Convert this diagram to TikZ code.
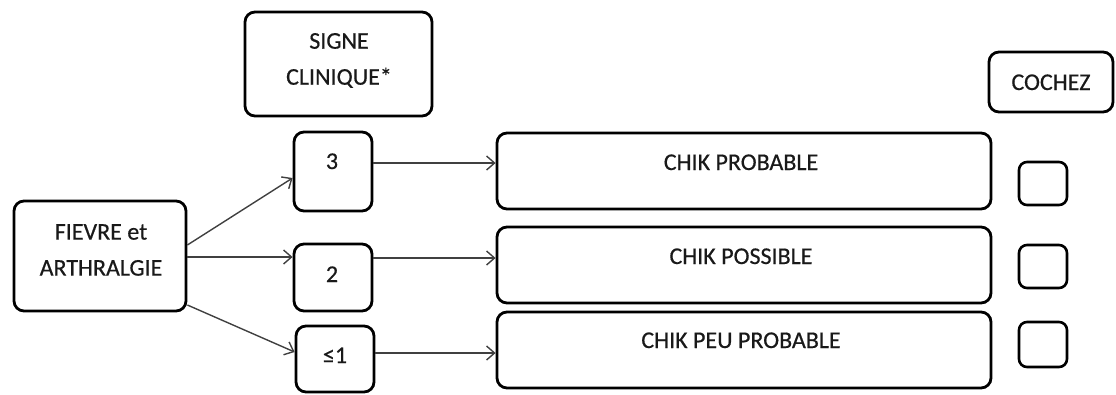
\documentclass[tikz,border=0pt]{standalone}
\usepackage{fontspec}
\setmainfont[FakeBold=0.5,AutoFakeBold=0.5]{Carlito}
\newfontfamily\lblfont[FakeBold=0.5]{Carlito}
\usetikzlibrary{arrows.meta}
\begin{document}
\begin{tikzpicture}[x=1pt,y=-1pt,
  rbox/.style={draw=black, line width=2.8pt, rounded corners=10pt, inner sep=0pt},
  cbox/.style={draw=black, line width=2.6pt, rounded corners=8pt, inner sep=0pt, minimum width=48pt},
  txt/.style={font=\lblfont\fontsize{24}{36}\selectfont, inner sep=0pt, text=black!90},
  conn/.style={draw=black!75, line width=1.4pt, -{Straight Barb[length=8pt,width=14pt]}}]
\useasboundingbox (0,0) rectangle (1116,394);
% boxes
\node[rbox, minimum width=187pt, minimum height=104pt] (signe) at (338.5,64) {};
\node[rbox, minimum width=78pt, minimum height=79pt] (b3) at (333,171.5) {};
\node[rbox, minimum width=78pt, minimum height=67pt] (b2) at (333,277.5) {};
\node[rbox, minimum width=78pt, minimum height=66pt] (b1) at (335,359) {};
\node[rbox, minimum width=172pt, minimum height=110pt] (fievre) at (100,256) {};
\node[rbox, minimum width=494pt, minimum height=76pt] (cp1) at (744,171) {};
\node[rbox, minimum width=494pt, minimum height=76pt] (cp2) at (744,265) {};
\node[rbox, minimum width=494pt, minimum height=76pt] (cp3) at (744,350) {};
\node[rbox, minimum width=124pt, minimum height=60pt] (cochez) at (1051,82) {};
\node[cbox, minimum height=43pt] (k1) at (1043,183.5) {};
\node[cbox, minimum height=43pt] (k2) at (1043,266.5) {};
\node[cbox, minimum height=45pt] (k3) at (1043,344.5) {};
% texts
\node[txt, align=center] (signeT) at (339,60.5) {SIGNE\\CLINIQUE*};
\node[txt, align=center] (fievreT) at (101,250) {FIEVRE et\\ARTHRALGIE};
\node[txt, anchor=base] (b3T) at (332,169) {3};
\node[txt, anchor=base] (b2T) at (332,282) {2};
\node[txt, anchor=base] (b1T) at (335,363) {≤1};
\node[txt, anchor=base] (cp1T) at (741,170) {CHIK PROBABLE};
\node[txt, anchor=base] (cp2T) at (741,264) {CHIK POSSIBLE};
\node[txt, anchor=base] (cp3T) at (741,348) {CHIK PEU PROBABLE};
\node[txt, anchor=base] (cochezT) at (1051,90) {COCHEZ};
% connectors
\draw[conn] ([yshift=11pt]fievre.east) -- ([yshift=-6.5pt]b3.west);
\draw[conn] ([yshift=-1pt]fievre.east) -- ([yshift=20.5pt]b2.west);
\draw[conn] ([yshift=-49pt]fievre.east) -- ([yshift=7pt]b1.west);
\draw[conn] ([yshift=8.5pt]b3.east) -- ([yshift=8pt]cp1.west);
\draw[conn] ([yshift=19.5pt]b2.east) -- ([yshift=7pt]cp2.west);
\draw[conn] ([yshift=6pt]b1.east) -- ([yshift=-3pt]cp3.west);
\end{tikzpicture}
\end{document}
